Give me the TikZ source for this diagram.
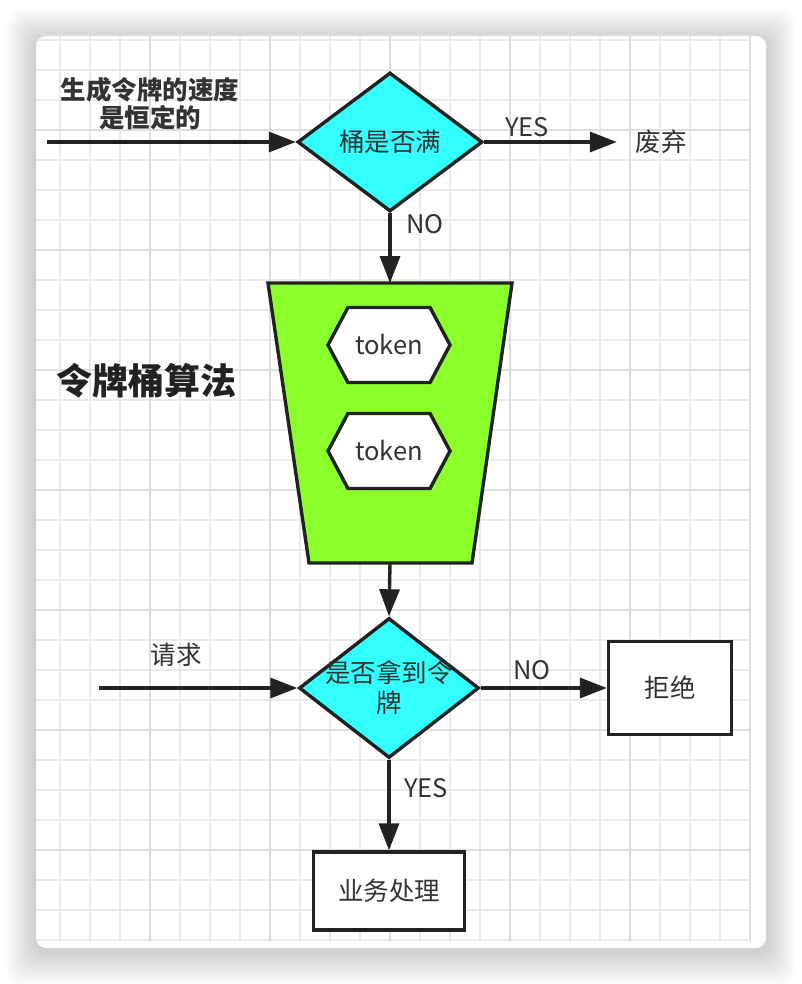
\documentclass[tikz,border=0pt]{standalone}
\usepackage{fontspec}
\setmainfont{Noto Sans CJK SC}
\usepackage{tikz}
\usetikzlibrary{positioning,arrows.meta,shapes.geometric,shapes.symbols}
\definecolor{cyanfill}{RGB}{51,255,255}
\definecolor{bucketgreen}{RGB}{138,255,42}
\definecolor{inkgray}{RGB}{51,51,51}
\definecolor{linegray}{RGB}{34,34,34}
\definecolor{gridminor}{RGB}{234,234,234}
\definecolor{gridmajor}{RGB}{222,222,222}

\begin{document}
\begin{tikzpicture}[
  x=1pt, y=-1pt,
  line width=3.4pt,
  every node/.style={font=\fontsize{25.5}{30}\selectfont, text=inkgray},
  decision/.style={diamond, draw=linegray, fill=cyanfill, inner sep=0pt},
  procbox/.style={rectangle, draw=linegray, fill=white, inner sep=0pt},
  tokenbox/.style={signal, signal to=west and east, signal pointer angle=124,
    draw=linegray, fill=white, inner sep=0pt,
    minimum width=122pt, minimum height=75pt},
  lbl/.style={inner sep=0pt},
  flow/.style={draw=linegray, -{Triangle[length=27pt,width=20pt]}}
]
\useasboundingbox (0,0) rectangle (802,984);

% 阴影与卡片
\foreach \i in {1,...,24}
  \fill[black, opacity=0.007, rounded corners=14]
    ({36-1.25*\i},{40-1.3*\i}) rectangle ({766+1.25*\i},{950+1.5*\i});
\fill[white, rounded corners=10] (36,36) rectangle (766,948);

% 网格
\begin{scope}
  \clip[rounded corners=10] (36,36) rectangle (766,948);
  \foreach \gx in {60,90,...,750}
    \draw[gridminor, line width=1.3pt] (\gx,36) -- (\gx,942);
  \foreach \gy in {40,70,...,940}
    \draw[gridminor, line width=1.3pt] (36,\gy) -- (750,\gy);
  \foreach \gx in {150,270,...,750}
    \draw[gridmajor, line width=1.9pt] (\gx,36) -- (\gx,942);
  \foreach \gy in {130,250,...,850}
    \draw[gridmajor, line width=1.9pt] (36,\gy) -- (750,\gy);
\end{scope}

% 令牌生成
\coordinate (src) at (47,142);
\node[lbl, font=\fontsize{25.5}{28}\selectfont\bfseries, align=center]
  (rate) at (150,104) {生成令牌的速度\\是恒定的};
\node[decision, minimum width=185pt, minimum height=139pt,
  label={center:桶是否满}] (full) at (390,142) {};
\node[lbl] (drop) at (661,142) {废弃};
\node[lbl] (yes1) at (527,127) {YES};
\node[lbl] (no1) at (425,224) {NO};

\draw[flow] (src) -- (full.west);
\draw[flow, shorten >=17pt] (full.east) -- (drop.west);

% 令牌桶
\draw[draw=linegray, fill=bucketgreen, line join=miter]
  (268,283) -- (512,283) -- (472,563) -- (309,563) -- cycle;
\coordinate (tbtop) at (390,283);
\coordinate (tbbot) at (390,563);
\node[tokenbox] (tok1) at (389,345) {token};
\node[tokenbox] (tok2) at (389,451) {token};
\node[lbl, font=\fontsize{36}{40}\selectfont\bfseries, text=linegray]
  (algo) at (146,381) {令牌桶算法};

\draw[flow] (full.south) -- (tbtop);

% 请求处理
\coordinate (req) at (99,688);
\node[lbl] (reqlbl) at (176,655) {请求};
\node[decision, minimum width=180pt, minimum height=140pt,
  label={[align=center, font=\fontsize{25.5}{30}\selectfont]center:是否拿到令\\牌}]
  (gettok) at (389,688) {};
\node[procbox, minimum width=123pt, minimum height=93pt] (deny) at (670,688) {拒绝};
\node[procbox, minimum width=151pt, minimum height=78pt] (biz) at (389,891) {业务处理};
\node[lbl] (no2) at (532,670) {NO};
\node[lbl] (yes2) at (426,788) {YES};

\draw[flow] (tbbot) -- (gettok.north);
\draw[flow] (req) -- (gettok.west);
\draw[flow] (gettok.east) -- (deny.west);
\draw[flow] (gettok.south) -- (biz.north);
\end{tikzpicture}
\end{document}
